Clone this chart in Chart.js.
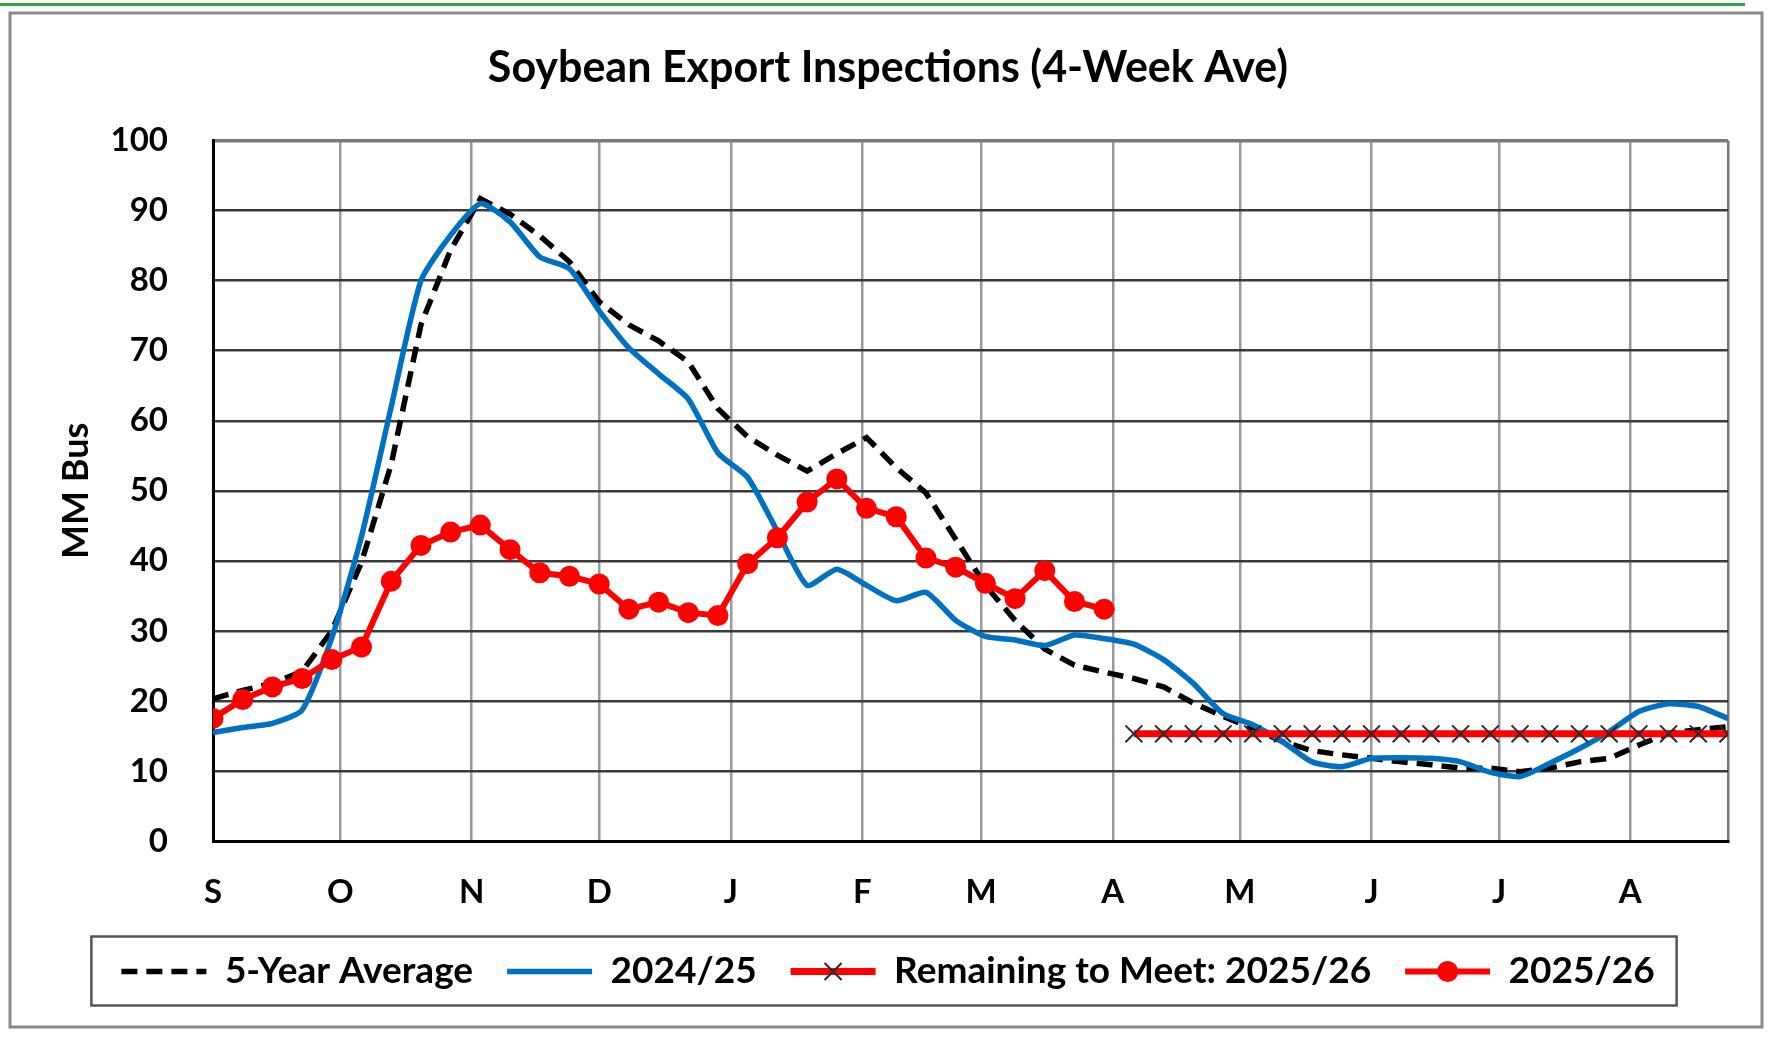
<!DOCTYPE html>
<html>
<head>
<meta charset="utf-8">
<title>Soybean Export Inspections</title>
<script src="https://cdn.jsdelivr.net/npm/chart.js@4.4.1/dist/chart.umd.min.js"></script>
<style>
  html, body { margin: 0; padding: 0; background: #fff; }
  #wrap { width: 1779px; height: 1038px; }
</style>
</head>
<body>
<div id="wrap"><canvas id="soyChart" width="1779" height="1038"></canvas></div>
<script>
// month labels and where each month starts, in weeks from 1 Sep
const monthLabels = ['S', 'O', 'N', 'D', 'J', 'F', 'M', 'A', 'M', 'J', 'J', 'A'];
const monthStartWeek = [0, 4.29, 8.71, 13, 17.43, 21.86, 25.86, 30.29, 34.57, 39, 43.29, 47.71];
const lastWeek = 51;

// weekly values, MM bushels (4-week average)
const avg5yr = [20.3, 21.5, 22.5, 24.2, 30, 39.8, 53.8, 73.7, 84.4, 91.7,
  89.5, 86.4, 82.7, 77, 73.7, 71.4, 68.4, 61.7, 57.7, 55.1,
  52.8, 55.3, 57.6, 53.3, 49.7, 43.1, 36.5, 31.5, 27.4, 25.1,
  24.1, 23.2, 22, 19.7, 17.8, 16.1, 14.2, 12.9, 12.3, 11.8,
  11.3, 10.9, 10.4, 10.4, 9.9, 10.4, 11.3, 11.8, 13.7, 15.4,
  15.9, 16.3];
const y2425 = [15.5, 16.2, 16.8, 18.7, 29, 43.5, 62, 80, 86.5, 91,
  88.4, 83.4, 81.7, 75.7, 70.4, 66.7, 63.1, 55.4, 51.9, 44.2,
  36.5, 38.8, 36.5, 34.3, 35.5, 31.5, 29.2, 28.7, 27.9, 29.4,
  28.9, 28.1, 25.9, 22.5, 18.2, 16.6, 14.2, 11.3, 10.6, 11.8,
  11.9, 11.8, 11.3, 9.8, 9.2, 11.1, 13.2, 15.6, 18.5, 19.6,
  19.2, 17.5];
const y2526 = [17.5, 20.2, 22, 23.2, 25.9, 27.7, 37.1, 42.2, 44.1, 45.1,
  41.6, 38.3, 37.8, 36.7, 33.1, 34.1, 32.6, 32.2, 39.6, 43.3,
  48.4, 51.7, 47.5, 46.3, 40.4, 39.1, 36.8, 34.6, 38.6, 34.2,
  33.1];
const remainingStartWeek = 31;
const remaining2526 = [15.3, 15.3, 15.3, 15.3, 15.3, 15.3, 15.3, 15.3, 15.3, 15.3,
  15.3, 15.3, 15.3, 15.3, 15.3, 15.3, 15.3, 15.3, 15.3, 15.3,
  15.3];

const toPoints = (arr, start) => arr.map((v, i) => ({ x: start + i, y: v }));

const FONT = 'Lato';
const boldFont = (size) => ({ family: FONT, size: size, weight: 'bold' });

// draws legend samples, legend frame and the outer frame
const decor = {
  id: 'decor',
  afterDraw(chart) {
    const ctx = chart.ctx;
    const legend = chart.legend;
    const boxW = legend.options.labels.boxWidth;
    ctx.save();

    let minL = Infinity, maxR = -Infinity, cy = 0;
    legend.legendItems.forEach((item, i) => {
      const hb = legend.legendHitBoxes[i];
      const ds = chart.data.datasets[item.datasetIndex];
      cy = hb.top + hb.height / 2;
      minL = Math.min(minL, hb.left);
      maxR = Math.max(maxR, hb.left + hb.width);
      ctx.strokeStyle = ds.borderColor;
      ctx.lineWidth = ds.borderWidth;
      ctx.setLineDash(ds.borderDash || []);
      ctx.lineCap = 'butt';
      ctx.beginPath();
      ctx.moveTo(hb.left, cy);
      ctx.lineTo(hb.left + boxW, cy);
      ctx.stroke();
      ctx.setLineDash([]);
      const cx = hb.left + boxW / 2;
      if (ds.pointRadius > 0 && ds.pointStyle === 'circle') {
        ctx.fillStyle = ds.pointBackgroundColor;
        ctx.beginPath();
        ctx.arc(cx, cy, ds.pointRadius, 0, Math.PI * 2);
        ctx.fill();
      } else if (ds.pointRadius > 0 && ds.pointStyle === 'crossRot') {
        const o = ds.pointRadius * Math.SQRT1_2;
        ctx.strokeStyle = ds.pointBorderColor;
        ctx.lineWidth = ds.pointBorderWidth;
        ctx.beginPath();
        ctx.moveTo(cx - o, cy - o); ctx.lineTo(cx + o, cy + o);
        ctx.moveTo(cx - o, cy + o); ctx.lineTo(cx + o, cy - o);
        ctx.stroke();
      }
    });

    // legend frame
    ctx.strokeStyle = '#555';
    ctx.lineWidth = 2.5;
    ctx.strokeRect(minL - 30, cy - 35, (maxR + 22) - (minL - 30), 69);

    // outer chart frame
    ctx.strokeStyle = '#8a8a8a';
    ctx.lineWidth = 3;
    ctx.strokeRect(10, 13, 1752, 1014);
    ctx.fillStyle = '#2aa84a';
    ctx.fillRect(0, 3, 1745, 3);
    ctx.restore();
  }
};

const ctx = document.getElementById('soyChart').getContext('2d');

new Chart(ctx, {
  type: 'line',
  data: {
    datasets: [
      {
        label: '5-Year Average',
        data: toPoints(avg5yr, 0),
        borderColor: '#000000',
        backgroundColor: '#000000',
        borderWidth: 5.5,
        borderDash: [16, 9],
        pointRadius: 0,
        tension: 0,
        order: 3
      },
      {
        label: '2024/25',
        data: toPoints(y2425, 0),
        borderColor: '#0070C0',
        backgroundColor: '#0070C0',
        borderWidth: 5.5,
        pointRadius: 0,
        tension: 0.2,
        order: 2
      },
      {
        label: 'Remaining to Meet: 2025/26',
        data: toPoints(remaining2526, remainingStartWeek),
        borderColor: '#FF0000',
        backgroundColor: '#FF0000',
        borderWidth: 7,
        pointStyle: 'crossRot',
        pointRadius: 12,
        pointBorderColor: '#2a2a2a',
        pointBorderWidth: 2,
        tension: 0,
        order: 1
      },
      {
        label: '2025/26',
        data: toPoints(y2526, 0),
        borderColor: '#FF0000',
        backgroundColor: '#FF0000',
        borderWidth: 6,
        pointStyle: 'circle',
        pointRadius: 10.5,
        pointBackgroundColor: '#FF0000',
        pointBorderColor: '#FF0000',
        pointBorderWidth: 0,
        tension: 0,
        order: 0
      }
    ]
  },
  options: {
    responsive: false,
    animation: false,
    layout: { padding: { top: 0, left: 48, right: 51, bottom: 38 } },
    plugins: {
      title: {
        display: true,
        text: 'Soybean Export Inspections (4-Week Ave)',
        color: '#000',
        font: boldFont(43),
        padding: { top: 42, bottom: 47 }
      },
      legend: {
        position: 'bottom',
        labels: {
          color: '#000',
          font: boldFont(37),
          boxWidth: 85,
          boxHeight: 0.1,
          padding: 34,
          sort: (a, b) => a.datasetIndex - b.datasetIndex,
          generateLabels: (chart) => Chart.defaults.plugins.legend.labels.generateLabels(chart)
            .map(l => Object.assign(l, { fillStyle: 'rgba(0,0,0,0)', strokeStyle: 'rgba(0,0,0,0)', lineWidth: 0 }))
        }
      },
      tooltip: { enabled: false }
    },
    scales: {
      x: {
        type: 'linear',
        min: 0,
        max: lastWeek,
        afterBuildTicks: (scale) => {
          scale.ticks = monthStartWeek.map(v => ({ value: v })).concat([{ value: lastWeek }]);
        },
        afterFit: (scale) => { scale.height = 78; },
        ticks: {
          autoSkip: false,
          maxRotation: 0,
          padding: 32,
          color: '#000',
          font: boldFont(33),
          callback: (value, index) => monthLabels[index] || ''
        },
        grid: {
          drawTicks: false,
          color: (c) => (c.index === monthStartWeek.length ? '#7a7a7a' : '#9a9a9a'),
          lineWidth: 2.5
        },
        border: { color: '#000', width: 3 }
      },
      y: {
        min: 0,
        max: 100,
        afterFit: (scale) => { scale.width = 165; },
        ticks: {
          stepSize: 10,
          padding: 45,
          color: '#000',
          font: boldFont(33)
        },
        grid: {
          drawTicks: false,
          color: (c) => (c.tick.value === 100 ? '#7a7a7a' : '#3a3a3a'),
          lineWidth: (c) => (c.tick.value === 100 ? 3.5 : 2.5)
        },
        border: { color: '#000', width: 3 },
        title: {
          display: true,
          text: 'MM Bus',
          color: '#000',
          font: boldFont(36),
          padding: { top: 7 }
        }
      }
    }
  },
  plugins: [decor]
});
</script>
</body>
</html>
